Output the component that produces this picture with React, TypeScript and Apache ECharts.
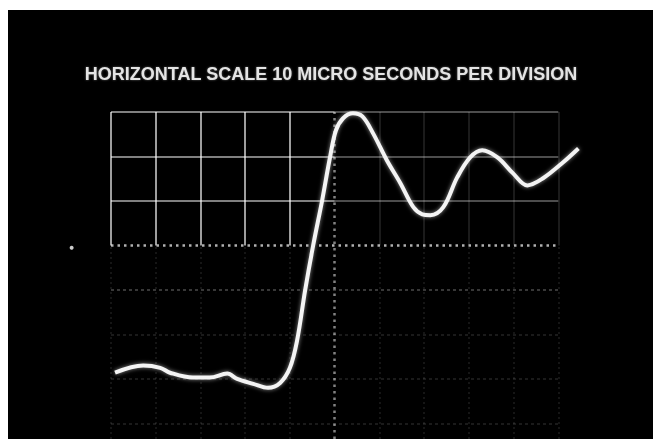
import React, { useEffect, useRef } from "react";
import * as echarts from "echarts";

// time in microseconds relative to the centre graticule line (10 µs / division)
const timeUs = [
  -49.1, -42.8, -39.0, -36.8, -31.7, -27.9, -24.0, -21.8, -18.2, -14.9, -12.2,
  -10.0, -8.4, -6.6, -4.8, -2.8, -1.0, 0.3, 1.9, 4.1, 6.2, 8.6, 11.7, 14.7,
  17.6, 19.6, 21.4, 24.3, 27.4, 30.3, 33.0, 36.4, 39.9, 43.1, 46.6, 51.1, 54.5,
];
// vertical deflection in divisions relative to the centre line
const deflectionDiv = [
  -2.86, -2.7, -2.75, -2.86, -2.97, -2.97, -2.88, -3.0, -3.11, -3.2, -3.09,
  -2.75, -2.14, -1.01, 0.0, 1.01, 2.0, 2.59, 2.86, 2.97, 2.9, 2.52, 1.91, 1.4,
  0.86, 0.7, 0.68, 0.86, 1.53, 1.98, 2.14, 1.98, 1.62, 1.35, 1.51, 1.87, 2.18,
];
// graticule (divisions)
const gridVerticalsUs = [-50, -40, -30, -20, -10, 10, 20, 30, 40, 50];
const gridHorizontalsDiv = [3, 2, 1, -1, -2, -3, -4];
const xRange = [-50, 50];
const yRange = [-4.35, 3];
// stray phosphor spot
const spot = [[-58.8, -0.05]];

const title = "HORIZONTAL SCALE 10 MICRO SECONDS PER DIVISION";

function seg(a: number[], b: number[], color: string, width = 1.5, type: any = "solid") {
  return [
    { coord: a, lineStyle: { color, width, type } },
    { coord: b },
  ];
}

export default function App() {
  const ref = useRef<HTMLDivElement>(null);
  useEffect(() => {
    if (!ref.current) return;
    const chart = echarts.init(ref.current, undefined, { renderer: "svg" });
    const marks: any[] = [];
    gridVerticalsUs.forEach((x) => {
      const upper = x <= 0 ? "rgba(255,255,255,0.62)" : "rgba(255,255,255,0.14)";
      marks.push(seg([x, 0], [x, yRange[1]], upper, x <= 0 ? 2 : 1.5));
      marks.push(seg([x, yRange[0]], [x, 0], "rgba(255,255,255,0.11)", 1.5, [2, 3]));
    });
    gridHorizontalsDiv.forEach((y) => {
      if (y > 0) {
        marks.push(seg([xRange[0], y], [0, y], "rgba(255,255,255,0.5)", 2));
        marks.push(seg([0, y], [xRange[1], y], "rgba(255,255,255,0.3)", 1.8));
      } else {
        const c = y === -1 ? "rgba(255,255,255,0.22)" : "rgba(255,255,255,0.1)";
        marks.push(seg([xRange[0], y], [xRange[1], y], c, 1.8, [3, 3]));
      }
    });
    // dotted centre lines
    marks.push(seg([xRange[0], 0], [xRange[1], 0], "rgba(235,235,235,0.75)", 2.5, [2.5, 4]));
    marks.push(seg([0, yRange[0]], [0, yRange[1]], "rgba(235,235,235,0.55)", 2.5, [2.5, 4]));

    chart.setOption({
      animation: false,
      backgroundColor: "#000",
      graphic: [
        { type: "rect", left: 0, top: 0, shape: { width: 8, height: 439 }, style: { fill: "#fff" } },
        { type: "rect", left: 0, top: 0, shape: { width: 653, height: 10 }, style: { fill: "#fff" } },
      ],
      title: {
        text: title,
        left: 326,
        textAlign: "center",
        top: 60,
        textStyle: {
          color: "#e4e4e4",
          fontFamily: "Liberation Sans, Arial, sans-serif",
          fontWeight: "bold",
          fontSize: 18,
          textShadowColor: "rgba(255,255,255,0.35)",
          textShadowBlur: 2,
        },
      },
      grid: { left: 111, right: 50, top: 112, bottom: 0 },
      xAxis: {
        type: "value",
        min: -50,
        max: 60,
        interval: 10,
        axisLine: { show: false },
        axisTick: { show: false },
        axisLabel: { show: false },
        splitLine: { show: false },
      },
      yAxis: {
        type: "value",
        min: yRange[0],
        max: yRange[1],
        axisLine: { show: false },
        axisTick: { show: false },
        axisLabel: { show: false },
        splitLine: { show: false },
      },
      series: [
        {
          type: "line",
          data: [],
          markLine: {
            silent: true,
            symbol: "none",
            label: { show: false },
            data: marks,
          },
        },
        {
          type: "line",
          smooth: 0.35,
          showSymbol: false,
          data: timeUs.map((t, i) => [t, deflectionDiv[i]]),
          lineStyle: {
            color: "#f4f4f4",
            width: 4,
            shadowColor: "rgba(255,255,255,0.55)",
            shadowBlur: 4,
          },
          z: 5,
        },
        {
          type: "scatter",
          clip: false,
          data: spot,
          symbolSize: 4,
          itemStyle: { color: "#fff" },
        },
      ],
    });
    return () => chart.dispose();
  }, []);
  return (
    <div
      ref={ref}
      style={{ position: "fixed", left: 0, top: 0, width: 653, height: 439 }}
    />
  );
}
